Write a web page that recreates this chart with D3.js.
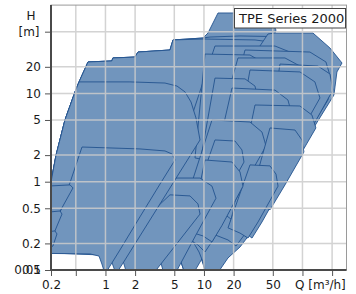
<!DOCTYPE html>
<html><head><meta charset="utf-8">
<script src="https://cdn.jsdelivr.net/npm/d3@7"></script>
<style>
html,body{margin:0;padding:0;background:#fff;}
svg{display:block;font-family:"DejaVu Sans",sans-serif;}
</style></head><body>
<svg id="c" width="356" height="294"></svg>
<script>
// ---------- axis values ----------
const xDomain = [0.28, 280];
const yDomain = [0.1, 100];
const xTickValues = [0.28, 0.5, 1, 2, 5, 10, 20, 50, 100, 200];
const xTickLabels = ["0.2", "", "1", "2", "5", "10", "20", "50", "", ""];
const yTickValues = [0.1, 0.2, 0.5, 1, 2, 5, 10, 20, 50];
const yTickLabels = ["0.1", "0.2", "0.5", "1", "2", "5", "10", "20", ""];
const yExtraLabel = "0.05";
const xGrid = [0.5, 1, 2, 5, 10, 20, 50, 100, 200];
const yGrid = [0.2, 0.5, 1, 2, 5, 10, 20, 50];
const legendText = "TPE Series 2000";

// ---------- pump areas (Q m³/h, H m) ----------
const envelopeLeft = [[9.78,42.4],[4.85,40.3],[4.52,31.0],[2.14,29.4],[1.99,25.8],[1.19,25.2],[1.16,23.3],[0.665,22.7],[0.539,13.5],[0.491,10.4],[0.388,5.0],[0.315,2.0],[0.28,0.99],[0.25,0.62]];
const pumpTall = [[10.99,48.3],[13.89,81.4],[38.84,81.4],[46.82,73.3],[53.86,52.2],[38.84,16.2],[23.22,2.97],[12.65,0.42],[8.50,0.123],[7.74,0.09],[6.42,0.09],[5.85,0.123],[5.45,0.152],[4.74,0.187],[3.58,0.208],[2.24,0.219],[0.25,0.219]];
const pumpHigh = [[11.52,43.5],[23.22,44.7],[94.33,43.5],[136.9,35.3],[173.1,23.9],[165.2,15.7],[90.0,4.74],[49.06,1.43],[29.34,0.53],[19.26,0.243],[13.89,0.137],[11.52,0.09],[10.49,0.09],[9.78,0.117],[9.12,0.148],[7.92,0.187],[5.99,0.219],[4.02,0.236],[0.25,0.243]];
const pumpMid = [[4.85,40.3],[9.78,41.3],[32.98,40.3],[66.45,36.3],[94.33,27.9],[113.7,18.4],[108.5,13.5],[59.2,4.27],[29.34,1.13],[14.55,0.30],[9.12,0.123],[7.74,0.09],[6.42,0.09],[5.85,0.123],[5.33,0.160],[4.32,0.192],[2.83,0.202],[0.25,0.202]];
const pumpLarge = [[44.67,47.1],[52.62,48.3],[127.7,48.3],[190.1,32.7],[252.1,22.1],[223.8,17.5],[208.7,9.59],[94.33,2.29],[50.2,0.574],[31.47,0.284],[23.22,0.182],[17.54,0.137],[13.56,0.09],[10.49,0.09],[9.78,0.123],[8.91,0.160],[7.56,0.219],[5.71,0.27],[3.58,0.30],[2.24,0.315]];
const pumpE = [[12.94,34.4],[52.62,34.4],[74.71,29.4],[90.03,20.4],[23.22,1.55],[12.94,0.50],[10.25,0.32],[8.11,0.39],[5.71,0.43],[3.58,0.45]];
const pumpF = [[26.10,31.0],[119.1,29.4],[173.1,22.7],[199.1,13.5],[181.4,8.42],[85.94,2.17],[44.67,0.62],[28.0,0.284],[21.15,0.187],[17.54,0.219],[12.94,0.25],[9.12,0.27]];
const pumpP = [[10.25,27.9],[29.34,27.2],[38.84,22.7],[42.65,16.2],[20.66,3.85],[12.94,1.55],[10.25,1.76],[8.11,1.86]];
const pumpG = [[22.16,25.2],[66.45,25.2],[94.33,20.4],[113.7,14.2],[46.82,2.60],[26.10,0.81],[20.66,0.545],[15.25,0.69],[9.12,0.76]];
const pumpQ = [[59.17,21.5],[143.6,20.4],[190.1,16.6],[203.9,10.9],[106.0,2.97],[66.45,1.29],[53.86,1.51],[41.7,1.67]];
const pumpH = [[29.34,18.4],[94.33,17.5],[133.8,13.5],[150.5,8.87],[66.45,1.76],[38.84,0.62],[29.34,0.35],[23.22,0.42],[16.36,0.50]];
const pumpR = [[12.94,14.9],[26.10,14.6],[32.98,12.1],[35.4,8.42],[19.26,2.29],[14.55,1.29],[11.52,1.51],[9.12,1.63]];
const pumpI = [[19.26,11.5],[52.62,10.9],[71.27,8.42],[78.24,5.69],[37.06,1.36],[23.22,0.545],[19.26,0.37],[15.25,0.45],[10.25,0.53]];
const pumpJ = [[32.98,7.39],[94.33,7.20],[124.8,5.69],[136.9,4.06],[59.17,0.81],[38.84,0.35],[30.75,0.23],[25.50,0.27],[18.38,0.32]];
const pumpK = [[12.07,5.0],[29.34,4.74],[38.84,3.65],[42.65,2.54],[18.38,0.48],[12.36,0.219],[10.25,0.16],[8.70,0.192],[6.89,0.23],[5.08,0.25]];
const pumpS = [[12.94,2.97],[20.66,2.89],[24.3,2.29],[25.5,1.67],[12.94,0.42],[10.25,0.25],[8.70,0.284],[6.42,0.315]];
const pumpL = [[46.82,4.06],[83.95,3.85],[98.83,2.97],[103.5,2.17],[66.45,0.92],[46.82,0.48],[38.84,0.545],[29.34,0.62]];
const pumpT = [[29.34,1.55],[46.82,1.51],[53.86,1.22],[56.5,0.89],[35.4,0.35],[28.0,0.23],[23.22,0.262],[17.54,0.30]];
const pumpM = [[10.25,1.76],[19.26,1.67],[23.22,1.29],[24.9,0.89],[15.25,0.32],[12.07,0.208],[9.78,0.243],[7.22,0.27]];
const pumpN = [[3.58,1.10],[9.12,1.10],[12.07,0.89],[13.25,0.65],[8.30,0.25],[5.08,0.09],[3.93,0.09],[3.66,0.12],[3.26,0.144],[2.24,0.16]];
const pumpO = [[4.52,0.71],[7.22,0.69],[8.70,0.56],[9.12,0.43],[3.04,0.09],[1.65,0.09],[1.52,0.123],[1.34,0.137],[0.99,0.144]];
const pumpSmall1 = [[0.539,13.5],[1.77,13.5],[4.02,13.1],[5.33,12.1],[6.42,10.4],[7.39,7.99],[8.30,5.27],[9.12,2.97],[5.71,1.29],[3.58,0.56],[2.24,0.243],[1.53,0.123],[1.28,0.09],[1.16,0.123],[1.04,0.137],[0.88,0.148],[0.49,0.152],[0.28,0.156],[0.25,0.156],[0.25,0.62],[0.28,0.99],[0.315,2.0],[0.388,5.0],[0.491,10.4]];
const pumpSmall2 = [[0.578,2.47],[2.24,2.35],[4.02,2.23],[4.74,2.06],[5.08,1.76],[3.58,0.94],[2.24,0.40],[1.40,0.168],[0.99,0.09],[0.92,0.117],[0.86,0.144],[0.70,0.152],[0.28,0.154],[0.25,0.154]];
const pumpTiny1 = [[0.25,0.89],[0.437,0.92],[0.468,0.85],[0.40,0.62],[0.33,0.42],[0.293,0.315],[0.25,0.284]];
const pumpTiny2 = [[0.25,0.45],[0.346,0.466],[0.362,0.43],[0.322,0.315],[0.287,0.23],[0.25,0.208]];
const pumpTiny3 = [[0.25,0.27],[0.307,0.277],[0.322,0.256],[0.293,0.187],[0.25,0.168]];

const pumps = [
  pumpTall.concat(envelopeLeft.slice().reverse()),
  pumpHigh.concat(envelopeLeft.slice().reverse()),
  pumpMid.concat(envelopeLeft.slice(2).reverse()),
  pumpLarge, pumpE, pumpF, pumpP, pumpG, pumpQ, pumpH, pumpR, pumpI, pumpJ, pumpK, pumpS,
  pumpL, pumpT, pumpM, pumpN, pumpO,
  pumpSmall1, pumpSmall2, pumpTiny1, pumpTiny2, pumpTiny3
];

// ---------- drawing ----------
const svg = d3.select("#c");
const x = d3.scaleLog().domain(xDomain).range([51, 346.5]);
const y = d3.scaleLog().domain(yDomain).range([270, 5.1]);
const [x0, x1] = x.range();
const [y0, y1] = y.range();

svg.append("defs").append("clipPath").attr("id", "plotClip")
  .append("rect").attr("x", x0).attr("y", y1).attr("width", x1 - x0).attr("height", y0 - y1);

const line = d3.line().x(d => x(d[0])).y(d => y(d[1]));
const gP = svg.append("g").attr("clip-path", "url(#plotClip)");
pumps.forEach(p => {
  gP.append("path").attr("d", line(p) + "Z")
    .attr("fill", "#7195bd").attr("stroke", "#24538f")
    .attr("stroke-width", 0.9).attr("stroke-linejoin", "round");
});

// grid on top
const gG = svg.append("g").attr("stroke", "#cccccc").attr("stroke-width", 1.5).attr("opacity", 0.85);
xGrid.forEach(v => gG.append("line").attr("x1", x(v)).attr("x2", x(v)).attr("y1", y1).attr("y2", y0));
yGrid.forEach(v => gG.append("line").attr("y1", y(v)).attr("y2", y(v)).attr("x1", x0).attr("x2", x1));

// frame
svg.append("rect").attr("x", x0).attr("y", y1).attr("width", x1 - x0).attr("height", y0 - y1)
  .attr("fill", "none").attr("stroke", "#9a9a9a").attr("stroke-width", 1);

// axes
const xAxis = d3.axisBottom(x).tickValues(xTickValues)
  .tickFormat((d, i) => xTickLabels[i]).tickSize(6).tickPadding(4);
const gx = svg.append("g").attr("transform", `translate(0,${y0})`).call(xAxis);
const yAxis = d3.axisLeft(y).tickValues(yTickValues)
  .tickFormat((d, i) => yTickLabels[i]).tickSize(6).tickPadding(4);
const gy = svg.append("g").attr("transform", `translate(${x0},0)`).call(yAxis);
[gx, gy].forEach(g => {
  g.select(".domain").remove();
  g.selectAll(".tick line").attr("stroke", "#555");
  g.selectAll("text").attr("fill", "#1a1a1a").style("font-size", "12px").style("font-family", "DejaVu Sans");
});
svg.append("line").attr("x1", x0).attr("x2", x0).attr("y1", y1).attr("y2", y0 + 1)
  .attr("stroke", "#4a4a4a").attr("stroke-width", 2);
svg.append("line").attr("x1", x0 - 1).attr("x2", x1).attr("y1", y0).attr("y2", y0)
  .attr("stroke", "#4a4a4a").attr("stroke-width", 2);

const txt = (s, tx, ty, anchor, size) => svg.append("text").text(s).attr("x", tx).attr("y", ty)
  .attr("text-anchor", anchor).attr("fill", "#1a1a1a").style("font-size", size + "px");
txt(yExtraLabel, x0 - 10, y(yDomain[0]), "end", 12).attr("dy", "0.32em");
txt("H", 31, 20, "middle", 12);
txt("[m]", 29, 36, "middle", 12);
txt("Q [m³/h]", 295, 288.5, "start", 12);

// legend
svg.append("rect").attr("x", 234.5).attr("y", 8.5).attr("width", 111).attr("height", 19.5)
  .attr("fill", "#fff").attr("stroke", "#444").attr("stroke-width", 1);
txt(legendText, 239, 23, "start", 13);
</script>
</body></html>
